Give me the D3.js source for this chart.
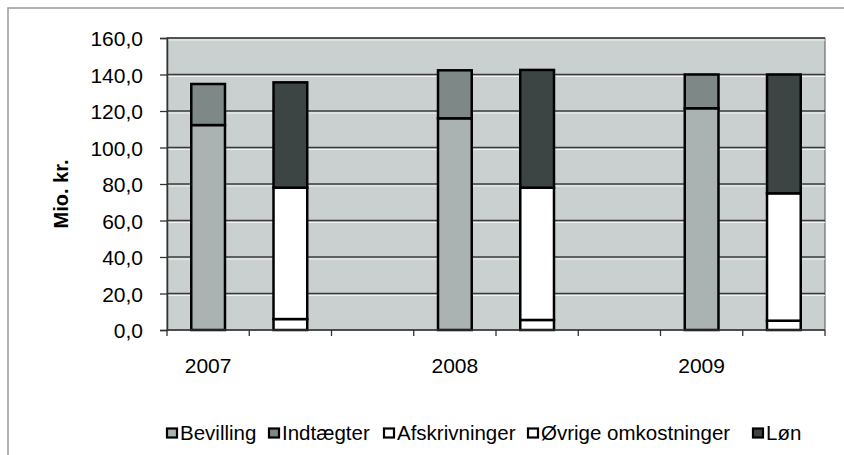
<!DOCTYPE html>
<html lang="da">
<head>
<meta charset="UTF-8">
<script src="https://d3js.org/d3.v7.min.js"></script>
<style>
  body { margin: 0; background: #fff; }
  text { font-family: "Liberation Sans", Arial, sans-serif; fill: #000; }
</style>
</head>
<body>
<div id="container"></div>
<script>
// data (Mio. kr.)
const years = ["2007", "2008", "2009"];
const bevilling = [112.3, 116.0, 121.5];
const indtaegter = [22.5, 26.3, 18.5];
const afskrivninger = [6.0, 5.5, 5.1];
const ovrige = [72.0, 72.5, 69.8];
const lon = [57.7, 64.5, 65.1];
const yTicks = [0, 20, 40, 60, 80, 100, 120, 140, 160];
const legendNames = ["Bevilling", "Indtægter", "Afskrivninger", "Øvrige omkostninger", "Løn"];

const colors = {
  "Bevilling": "#aab3b1",
  "Indtægter": "#7e8987",
  "Afskrivninger": "#ffffff",
  "Øvrige omkostninger": "#ffffff",
  "Løn": "#3c4543"
};

const W = 844, H = 455;
const margin = { left: 167, right: 19, top: 38, bottom: 125 };

const svg = d3.select("#container").append("svg")
  .attr("width", W).attr("height", H).style("display", "block");

// outer chart frame
svg.append("rect")
  .attr("x", 8).attr("y", 8).attr("width", W).attr("height", H)
  .attr("fill", "none").attr("stroke", "#9a9a9a").attr("stroke-width", 1.5);

// 8 slots: financing bar, cost bar, empty gap per year
const slots = d3.range(years.length * 3 - 1);
const x = d3.scaleBand().domain(slots)
  .range([margin.left, W - margin.right])
  .paddingInner(0.59).paddingOuter(0.295);
const xSlot = d3.scaleBand().domain(slots).range([margin.left, W - margin.right]);

const y = d3.scaleLinear().domain([0, 160]).range([H - margin.bottom, margin.top]);

// plot background
svg.append("rect")
  .attr("x", margin.left).attr("y", margin.top)
  .attr("width", W - margin.right - margin.left)
  .attr("height", y(0) - margin.top)
  .attr("fill", "#c9d0cf").attr("stroke", "#555").attr("stroke-width", 1);

// gridlines (dark with light scan edge)
const grid = svg.append("g");
grid.selectAll("line.w").data(yTicks.slice(1)).join("line")
  .attr("x1", margin.left).attr("x2", W - margin.right)
  .attr("y1", d => y(d) + 2).attr("y2", d => y(d) + 2)
  .attr("stroke", "#f2f4f4").attr("stroke-width", 1.2);
grid.selectAll("line.d").data(yTicks.slice(1)).join("line")
  .attr("x1", margin.left).attr("x2", W - margin.right)
  .attr("y1", d => y(d)).attr("y2", d => y(d))
  .attr("stroke", "#3a3a3a").attr("stroke-width", 1.4);

// stacked bars
const bars = [];
years.forEach((yr, i) => {
  bars.push({ slot: i * 3, parts: [["Bevilling", bevilling[i]], ["Indtægter", indtaegter[i]]] });
  bars.push({ slot: i * 3 + 1, parts: [["Afskrivninger", afskrivninger[i]], ["Øvrige omkostninger", ovrige[i]], ["Løn", lon[i]]] });
});
const segs = [];
bars.forEach(b => {
  let base = 0;
  b.parts.forEach(([name, v]) => {
    segs.push({ slot: b.slot, name: name, y0: base, y1: base + v });
    base += v;
  });
});

svg.append("g").selectAll("rect").data(segs).join("rect")
  .attr("x", d => x(d.slot))
  .attr("width", x.bandwidth())
  .attr("y", d => y(d.y1))
  .attr("height", d => y(d.y0) - y(d.y1))
  .attr("fill", d => colors[d.name])
  .attr("stroke", "#000").attr("stroke-width", 2.5);

// y axis
const yAxis = d3.axisLeft(y).tickValues(yTicks)
  .tickFormat(d => d3.format(".1f")(d).replace(".", ","))
  .tickSize(7).tickPadding(17);
const gy = svg.append("g").attr("transform", `translate(${margin.left},0)`).call(yAxis);
gy.select(".domain").attr("stroke", "#333").attr("stroke-width", 1.5);
gy.selectAll(".tick line").attr("stroke", "#333").attr("stroke-width", 1.3);
gy.selectAll("text").style("font-size", "21px").attr("dy", "0.36em");

// x axis: tick marks on slot boundaries, year labels under financing bar
const gx = svg.append("g").attr("transform", `translate(0,${y(0)})`);
gx.append("line")
  .attr("x1", margin.left).attr("x2", W - margin.right)
  .attr("stroke", "#333").attr("stroke-width", 1.5);
gx.selectAll("line.t").data(slots.concat([slots.length])).join("line")
  .attr("class", "t")
  .attr("x1", d => margin.left + d * xSlot.step()).attr("x2", d => margin.left + d * xSlot.step())
  .attr("y1", 0).attr("y2", 6)
  .attr("stroke", "#333").attr("stroke-width", 1.3);
gx.selectAll("text").data(years).join("text")
  .attr("x", (d, i) => xSlot(i * 3) + xSlot.bandwidth() / 2)
  .attr("y", 43)
  .attr("text-anchor", "middle")
  .style("font-size", "21px")
  .text(d => d);

// y axis title
svg.append("text")
  .attr("transform", "translate(68,194) rotate(-90)")
  .attr("text-anchor", "middle")
  .style("font-size", "20px").style("font-weight", "bold")
  .text("Mio. kr.");

// legend
const legendX = [166, 268, 383, 527, 752];
const lg = svg.append("g").selectAll("g").data(legendNames).join("g")
  .attr("transform", (d, i) => `translate(${legendX[i]},440)`);
lg.append("rect")
  .attr("x", 1).attr("y", -11.5).attr("width", 10).attr("height", 9)
  .attr("fill", d => colors[d]).attr("stroke", "#000").attr("stroke-width", 2.2);
lg.append("text")
  .attr("x", 14).attr("y", 0)
  .style("font-size", "20.5px")
  .text(d => d);
</script>
</body>
</html>
